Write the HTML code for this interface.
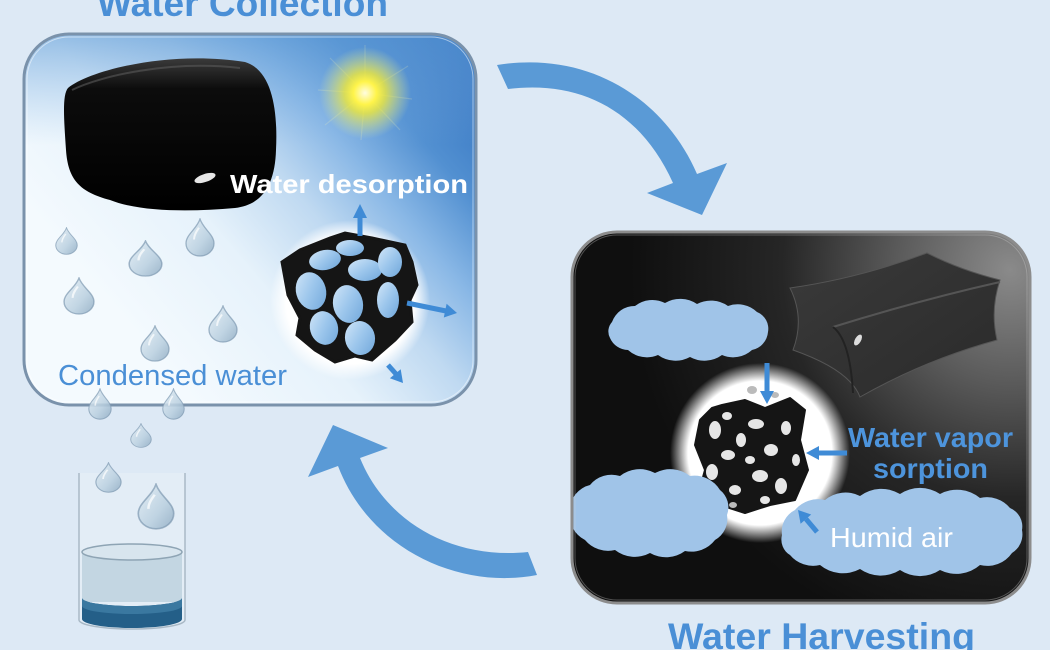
<!DOCTYPE html>
<html><head><meta charset="utf-8"><style>
html,body{margin:0;padding:0;background:#dde9f5;}
svg{display:block;}
text{font-family:"Liberation Sans",Arial,sans-serif;}
</style></head><body>
<svg width="1050" height="650" viewBox="0 0 1050 650" xmlns="http://www.w3.org/2000/svg">
<defs>
  <linearGradient id="lpg" gradientUnits="userSpaceOnUse" x1="130" y1="330" x2="460" y2="50">
    <stop offset="0" stop-color="#f4fafe"/>
    <stop offset="0.3" stop-color="#e6f2fb"/>
    <stop offset="0.5" stop-color="#bfd9f1"/>
    <stop offset="0.65" stop-color="#8ab8e6"/>
    <stop offset="0.8" stop-color="#5290d1"/>
    <stop offset="1" stop-color="#3373c0"/>
  </linearGradient>
  <linearGradient id="lpt" x1="0" y1="0" x2="0" y2="1">
    <stop offset="0" stop-color="#5d9ad6" stop-opacity="0.6"/>
    <stop offset="0.3" stop-color="#8ab8e6" stop-opacity="0"/>
  </linearGradient>
  <radialGradient id="rpg" gradientUnits="userSpaceOnUse" cx="1010" cy="270" r="380">
    <stop offset="0" stop-color="#8a8a8a"/>
    <stop offset="0.3" stop-color="#5a5a5a"/>
    <stop offset="0.6" stop-color="#262626"/>
    <stop offset="1" stop-color="#0f0f0f"/>
  </radialGradient>
  <radialGradient id="glow">
    <stop offset="0" stop-color="#ffffff"/>
    <stop offset="0.8" stop-color="#ffffff"/>
    <stop offset="1" stop-color="#ffffff" stop-opacity="0"/>
  </radialGradient>
  <radialGradient id="sun">
    <stop offset="0" stop-color="#fffde0"/>
    <stop offset="0.25" stop-color="#fff44a"/>
    <stop offset="0.45" stop-color="#f2ea3a" stop-opacity="0.8"/>
    <stop offset="1" stop-color="#e8f0a0" stop-opacity="0"/>
  </radialGradient>
  <linearGradient id="dg" x1="0" y1="0" x2="1" y2="1">
    <stop offset="0" stop-color="#e4eef5"/>
    <stop offset="0.6" stop-color="#b9cfdf"/>
    <stop offset="1" stop-color="#8fabc2"/>
  </linearGradient>
  <linearGradient id="hole" x1="0" y1="0" x2="1" y2="1">
    <stop offset="0" stop-color="#d2e6f8"/>
    <stop offset="0.5" stop-color="#9cc6ec"/>
    <stop offset="1" stop-color="#6fa6da"/>
  </linearGradient>
  <linearGradient id="blob" x1="0" y1="0" x2="0" y2="1">
    <stop offset="0" stop-color="#3a3a3a"/>
    <stop offset="0.2" stop-color="#0c0c0c"/>
    <stop offset="1" stop-color="#000"/>
  </linearGradient>
  <linearGradient id="prism" x1="0" y1="0" x2="1" y2="1">
    <stop offset="0" stop-color="#3a3a3a"/>
    <stop offset="1" stop-color="#2a2a2a"/>
  </linearGradient>
  <clipPath id="rpc"><rect x="572" y="232" width="458" height="371" rx="45"/></clipPath>
  <clipPath id="lpc"><rect x="24" y="34" width="452" height="371" rx="45"/></clipPath>
  <symbol id="drop" viewBox="0 0 30 40" preserveAspectRatio="none">
    <path d="M15 1 C18 11 29 17 29 26 A14 13 0 0 1 1 26 C1 17 12 11 15 1Z" fill="url(#dg)" fill-opacity="0.85" stroke="#7d99b0" stroke-width="1.3" stroke-opacity="0.7"/>
    <path d="M9 22 C9 17 12 13 14 10" fill="none" stroke="#ffffff" stroke-width="2" stroke-opacity="0.7"/>
  </symbol>
</defs>

<!-- background -->
<rect width="1050" height="650" fill="#dde9f5"/>

<!-- Titles -->
<text x="97" y="16" font-size="37" font-weight="bold" fill="#4a8fd6" textLength="291" lengthAdjust="spacingAndGlyphs">Water Collection</text>
<text x="668" y="649" font-size="37" font-weight="bold" fill="#4a8fd6" textLength="307" lengthAdjust="spacingAndGlyphs">Water Harvesting</text>

<!-- LEFT PANEL -->
<rect x="24" y="34" width="452" height="371" rx="45" fill="url(#lpg)"/>
<rect x="24" y="34" width="452" height="371" rx="45" fill="url(#lpt)"/>
<g clip-path="url(#lpc)">
  <!-- sun -->
  <g stroke="#fff8b0" stroke-opacity="0.18" stroke-width="1.2">
    <line x1="365" y1="93" x2="365" y2="45"/><line x1="365" y1="93" x2="408" y2="66"/>
    <line x1="365" y1="93" x2="412" y2="99"/><line x1="365" y1="93" x2="400" y2="130"/>
    <line x1="365" y1="93" x2="361" y2="140"/><line x1="365" y1="93" x2="325" y2="125"/>
    <line x1="365" y1="93" x2="318" y2="90"/><line x1="365" y1="93" x2="330" y2="58"/>
  </g>
  <circle cx="365" cy="93" r="46" fill="url(#sun)"/>
  <!-- MOF glow -->
  <circle cx="350" cy="300" r="80" fill="url(#glow)"/>
</g>
<rect x="24" y="34" width="452" height="371" rx="45" fill="none" stroke="#7a92ab" stroke-width="3"/>
<rect x="27" y="37" width="446" height="365" rx="42" fill="none" stroke="#ffffff" stroke-opacity="0.5" stroke-width="1"/>

<!-- black pillow -->
<path d="M68 88 C90 70 170 50 245 62 C272 70 278 110 276 150 C275 185 262 205 235 208 C190 212 140 212 110 200 C80 192 68 180 66 150 C64 120 62 95 68 88Z" fill="url(#blob)"/>
<path d="M72 90 C100 76 170 60 240 68" fill="none" stroke="#5a5a5a" stroke-width="2" stroke-opacity="0.6"/>
<ellipse cx="205" cy="178" rx="11" ry="4" transform="rotate(-18 205 178)" fill="#ffffff" opacity="0.9"/>

<!-- MOF cube (left) -->
<polygon points="282,262 300,250 330,238 345,233 372,238 405,245 412,262 417,285 410,300 412,322 395,340 372,360 355,356 335,362 315,350 297,335 300,318 288,295" fill="#151515" stroke="#151515" stroke-width="3" stroke-linejoin="miter"/>
<g fill="url(#hole)">
  <ellipse cx="325" cy="260" rx="16" ry="10" transform="rotate(-10 325 260)"/>
  <ellipse cx="350" cy="248" rx="14" ry="8"/>
  <ellipse cx="365" cy="270" rx="17" ry="11"/>
  <ellipse cx="390" cy="262" rx="12" ry="15"/>
  <ellipse cx="311" cy="291" rx="15" ry="19" transform="rotate(-15 311 291)"/>
  <ellipse cx="348" cy="304" rx="15" ry="19" transform="rotate(-10 348 304)"/>
  <ellipse cx="324" cy="328" rx="14" ry="17" transform="rotate(-15 324 328)"/>
  <ellipse cx="360" cy="338" rx="15" ry="17" transform="rotate(-10 360 338)"/>
  <ellipse cx="388" cy="300" rx="11" ry="18"/>
</g>

<!-- small arrows left -->
<g fill="#3f8bd6" stroke="#3f8bd6">
  <line x1="360" y1="236" x2="360" y2="216" stroke-width="5"/>
  <polygon points="353,218 367,218 360,204" stroke="none"/>
  <line x1="407" y1="303" x2="446" y2="311" stroke-width="5"/>
  <polygon points="443.8,317.5 446.6,303.7 457,313" stroke="none"/>
  <line x1="388" y1="365" x2="396" y2="374" stroke-width="5"/>
  <polygon points="400.7,369.3 389.9,378.3 403,383" stroke="none"/>
</g>

<text x="230" y="193" font-size="26" font-weight="bold" fill="#ffffff" textLength="238" lengthAdjust="spacingAndGlyphs">Water desorption</text>
<text x="58" y="385" font-size="29" fill="#4a8fd6" textLength="229" lengthAdjust="spacingAndGlyphs">Condensed water</text>

<!-- drops in left panel -->
<use href="#drop" x="55" y="227" width="23" height="28"/>
<use href="#drop" x="128" y="240" width="35" height="37"/>
<use href="#drop" x="185" y="218" width="30" height="39"/>
<use href="#drop" x="63" y="277" width="32" height="38"/>
<use href="#drop" x="208" y="305" width="30" height="38"/>
<use href="#drop" x="140" y="325" width="30" height="37"/>

<!-- glass -->
<path d="M79 473 L79 620 A53 9 0 0 0 185 620 L185 473" fill="#ffffff" fill-opacity="0.18" stroke="#a9b9c6" stroke-width="1.5"/>
<rect x="82" y="552" width="100" height="50" fill="#c3d6e2"/>
<path d="M82 598 A50 8 0 0 0 182 598 L182 619 A50 9 0 0 1 82 619Z" fill="#245f88"/>
<path d="M82 598 A50 8 0 0 0 182 598 L182 606 A50 8 0 0 1 82 606Z" fill="#3a78a0"/>
<ellipse cx="132" cy="552" rx="50" ry="8" fill="#d8e5ee" stroke="#8ea4b4" stroke-width="1.5"/>

<!-- falling drops -->
<use href="#drop" x="88" y="388" width="24" height="32"/>
<use href="#drop" x="162" y="388" width="23" height="32"/>
<use href="#drop" x="130" y="423" width="22" height="25"/>
<use href="#drop" x="95" y="462" width="27" height="31"/>
<use href="#drop" x="137" y="483" width="38" height="47"/>

<!-- big arrows -->
<path d="M497 65 C590 50 665 100 697 174 L727 163 L702 215 L647 193 L673 183 C640 110 580 80 508 89Z" fill="#5a9ad6"/>
<path d="M537 575 C460 590 370 550 338 466 L308 477 L333 425 L388 448 L360 458 C385 520 450 560 528 552Z" fill="#5a9ad6"/>

<!-- RIGHT PANEL -->
<rect x="572" y="232" width="458" height="371" rx="45" fill="url(#rpg)"/>
<g clip-path="url(#rpc)">
  <!-- prism -->
  <path d="M790 288 Q860 278 927 253 Q960 270 1000 280 Q990 310 997 340 Q925 360 860 397 Q850 370 793 350 Q805 318 790 288Z" fill="url(#prism)" stroke="#555" stroke-width="1"/>
  <path d="M833 327 Q920 300 1000 282" fill="none" stroke="#555" stroke-width="2"/>
  <path d="M833 327 Q850 340 853 393" fill="none" stroke="#222" stroke-width="2"/>
  <ellipse cx="858" cy="340" rx="3" ry="6" fill="#ddd" transform="rotate(30 858 340)"/>
  <!-- white circle -->
  <circle cx="760" cy="453" r="90" fill="url(#glow)"/>
  <!-- MOF right -->
  <path d="M700 420 L712 408 L722 405 L745 400 L765 408 L790 398 L805 410 L800 440 L808 470 L795 500 L770 505 L745 513 L720 505 L698 495 L705 470 L695 445Z" fill="#151515" stroke="#151515" stroke-width="2" stroke-linejoin="round"/>
  <g fill="#e6e6e6">
    <ellipse cx="715" cy="430" rx="6" ry="9"/>
    <ellipse cx="728" cy="455" rx="7" ry="5"/>
    <ellipse cx="712" cy="472" rx="6" ry="8"/>
    <ellipse cx="741" cy="440" rx="5" ry="7"/>
    <ellipse cx="756" cy="424" rx="8" ry="5"/>
    <ellipse cx="771" cy="450" rx="7" ry="6"/>
    <ellipse cx="786" cy="428" rx="5" ry="7"/>
    <ellipse cx="760" cy="476" rx="8" ry="6"/>
    <ellipse cx="735" cy="490" rx="6" ry="5"/>
    <ellipse cx="781" cy="486" rx="6" ry="8"/>
    <ellipse cx="750" cy="460" rx="5" ry="4"/>
    <ellipse cx="796" cy="460" rx="4" ry="6"/>
    <ellipse cx="727" cy="416" rx="5" ry="4"/>
    <ellipse cx="765" cy="500" rx="5" ry="4"/>
  </g>
  <g fill="#bbbbbb">
    <ellipse cx="752" cy="390" rx="5" ry="4"/>
    <ellipse cx="775" cy="395" rx="4" ry="3"/>
    <ellipse cx="733" cy="505" rx="4" ry="3"/>
  </g>
  <!-- clouds (shallow scallops) -->
  <g fill="#a0c4e8">
    <path d="M612 322 A24 24 0 0 1 635 306 A28 28 0 0 1 665 303 A30 30 0 0 1 697 304 A30 30 0 0 1 728 306 A28 28 0 0 1 757 312 A18 18 0 0 1 768 332 A20 20 0 0 1 752 350 A28 28 0 0 1 722 355 A30 30 0 0 1 690 357 A30 30 0 0 1 658 355 A28 28 0 0 1 628 350 A20 20 0 0 1 610 338 A14 14 0 0 1 612 322Z"/>
    <path d="M570 510 A26 26 0 0 1 590 485 A28 28 0 0 1 620 476 A32 32 0 0 1 655 473 A32 32 0 0 1 690 476 A30 30 0 0 1 720 490 A22 22 0 0 1 727 515 A24 24 0 0 1 715 540 A30 30 0 0 1 685 551 A32 32 0 0 1 650 553 A32 32 0 0 1 615 550 A30 30 0 0 1 585 540 A28 28 0 0 1 570 510Z"/>
    <path d="M782 535 A24 24 0 0 1 795 510 A30 30 0 0 1 825 500 A32 32 0 0 1 860 496 A36 36 0 0 1 900 494 A36 36 0 0 1 940 494 A36 36 0 0 1 980 498 A30 30 0 0 1 1010 508 A20 20 0 0 1 1022 530 A22 22 0 0 1 1012 553 A30 30 0 0 1 980 565 A36 36 0 0 1 940 570 A36 36 0 0 1 900 570 A36 36 0 0 1 860 569 A36 36 0 0 1 820 565 A30 30 0 0 1 790 555 A18 18 0 0 1 782 535Z"/>
  </g>
</g>
<rect x="572" y="232" width="458" height="371" rx="45" fill="none" stroke="#8c8c8c" stroke-width="3"/>
<rect x="575" y="235" width="452" height="365" rx="42" fill="none" stroke="#cfcfcf" stroke-opacity="0.35" stroke-width="1"/>

<!-- small arrows right -->
<g fill="#3f8bd6" stroke="#3f8bd6">
  <line x1="767" y1="363" x2="767" y2="392" stroke-width="5"/>
  <polygon points="760,391 774,391 767,404" stroke="none"/>
  <line x1="847" y1="453" x2="818" y2="453" stroke-width="5"/>
  <polygon points="819,446 819,460 806,453" stroke="none"/>
  <line x1="817" y1="532" x2="806" y2="519" stroke-width="5"/>
  <polygon points="811.2,514.5 800.6,523.7 798,510" stroke="none"/>
</g>

<text x="848" y="447" font-size="28" font-weight="bold" fill="#4d94dc" textLength="165" lengthAdjust="spacingAndGlyphs">Water vapor</text>
<text x="873" y="478" font-size="28" font-weight="bold" fill="#4d94dc" textLength="115" lengthAdjust="spacingAndGlyphs">sorption</text>
<text x="830" y="547" font-size="28" fill="#ffffff" textLength="123" lengthAdjust="spacingAndGlyphs">Humid air</text>
</svg>
</body></html>
